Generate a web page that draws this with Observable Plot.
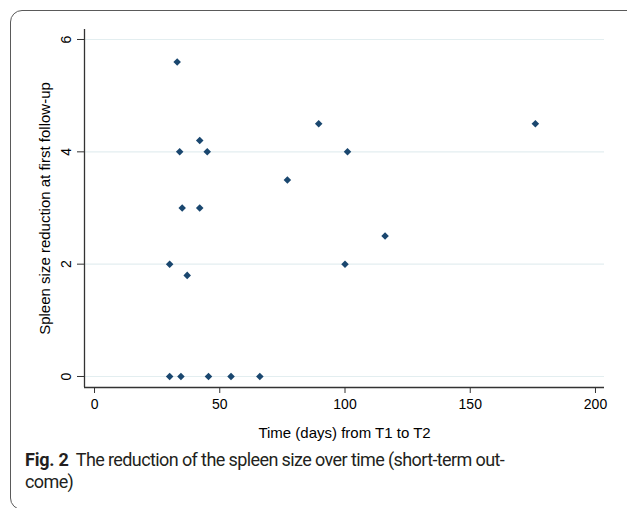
<!DOCTYPE html>
<html>
<head>
<meta charset="utf-8">
<script src="https://cdn.jsdelivr.net/npm/d3@7"></script>
<script src="https://cdn.jsdelivr.net/npm/@observablehq/plot@0.6"></script>
<style>
  html, body { margin: 0; padding: 0; background: #fff; overflow: hidden; }
  #wrap { position: relative; width: 627px; height: 508px; overflow: hidden; }
  #border { position: absolute; left: 10px; top: 10px; width: 680px; height: 500px;
    border: 1.3px solid #5a5a5a; border-radius: 12px 0 0 12px; box-sizing: border-box; }
  #chart { position: absolute; left: 0; top: 0; }
  #caption { position: absolute; left: 25px; top: 449px; width: 595px;
    font-family: "Roboto", "Noto Sans", sans-serif; font-size: 18px; line-height: 22px;
    color: #231f20; letter-spacing: -0.6px; white-space: nowrap; }
  #caption b { font-weight: 700; margin-right: 7px; letter-spacing: -0.2px; }
</style>
</head>
<body>
<div id="wrap">
  <div id="border"></div>
  <div id="chart"></div>
  <div id="caption"><b>Fig. 2</b>The reduction of the spleen size over time (short-term out-<br>come)</div>
</div>
<script>
// Data
const days = [33, 34, 42, 45, 77, 89.5, 101, 176, 35, 42, 30, 37, 30, 34.5, 45.5, 54.5, 66, 100, 116];
const reduction = [5.6, 4, 4.2, 4, 3.5, 4.5, 4, 4.5, 3, 3, 2, 1.8, 0, 0, 0, 0, 0, 2, 2.5];
const xTicks = [0, 50, 100, 150, 200];
const yTicks = [0, 2, 4, 6];
const xLabel = "Time (days) from T1 to T2";
const yLabel = "Spleen size reduction at first follow-up";
const xDomain = [-4, 203.6];
const yDomain = [-0.196, 6.178];

const data = days.map((d, i) => ({days: d, reduction: reduction[i]}));
const font = "'Liberation Sans', Arial, sans-serif";

const chart = Plot.plot({
  width: 627,
  height: 445,
  marginLeft: 84,
  marginRight: 23,
  marginTop: 29,
  marginBottom: 58,
  style: {fontFamily: font, fontSize: "14px", color: "#000", background: "transparent"},
  x: {domain: xDomain, ticks: xTicks},
  y: {domain: yDomain, ticks: yTicks},
  marks: [
    Plot.gridY(yTicks, {stroke: "#e3eef0", strokeOpacity: 1, strokeWidth: 1.2}),
    Plot.ruleX([xDomain[0]], {y1: yDomain[0], y2: yDomain[1], stroke: "#333", strokeWidth: 1.3}),
    Plot.ruleY([yDomain[0]], {x1: xDomain[0], x2: xDomain[1], stroke: "#333", strokeWidth: 1.3}),
    Plot.axisX(xTicks, {tickSize: 6, tickPadding: 6, stroke: "#333", label: null, fontSize: 14, fill: "#000"}),
    Plot.axisY(yTicks, {tickSize: 7, tickFormat: () => "", stroke: "#333", label: null}),
    Plot.text(yTicks, {x: xDomain[0], y: d => d, text: d => String(d), rotate: -90,
      dx: -14, lineAnchor: "bottom", textAnchor: "middle", fontSize: 14, fill: "#000"}),
    Plot.text([xLabel], {frameAnchor: "bottom", dy: 50, lineAnchor: "bottom", textAnchor: "middle", fontSize: 15, fill: "#000"}),
    Plot.text([yLabel], {frameAnchor: "left", dx: -35, rotate: -90, lineAnchor: "bottom", textAnchor: "middle", fontSize: 15, fill: "#000"}),
    Plot.dot(data, {x: "days", y: "reduction", symbol: "diamond2", r: 3.4, fill: "#1a476f", stroke: "none"})
  ]
});
document.getElementById("chart").append(chart);
</script>
</body>
</html>
